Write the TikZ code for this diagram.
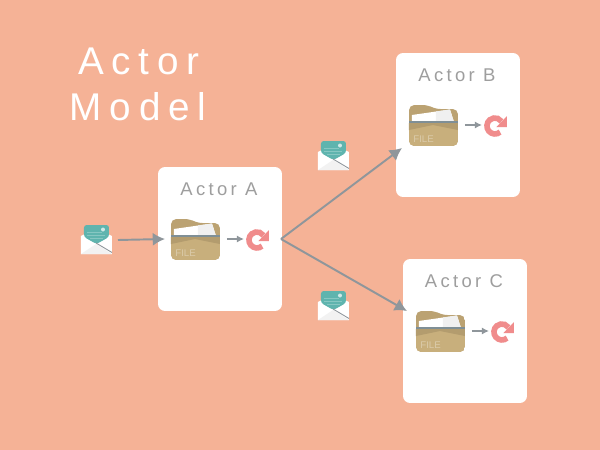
\documentclass[tikz,border=0pt]{standalone}
\usepackage{fontspec}
\setmainfont{Liberation Sans}
\newfontfamily\titlefont[LetterSpace=20]{Liberation Sans}
\newfontfamily\labelfont[LetterSpace=18]{Liberation Sans}
\usetikzlibrary{arrows.meta}
\definecolor{bgsalmon}{HTML}{F5B296}
\definecolor{linegray}{HTML}{8F969B}
\definecolor{labelgray}{HTML}{9E9E9E}
\definecolor{foldertan}{HTML}{BBA272}
\definecolor{folderdark}{HTML}{B39C6E}
\definecolor{folderlight}{HTML}{C8AF7C}
\definecolor{folderband}{HTML}{7F8F96}
\definecolor{redopink}{HTML}{F08C8C}
\definecolor{letterteal}{HTML}{5FB4AE}
\tikzset{>=latex}
\tikzset{
  actor/.style={fill=white, rounded corners=4pt, minimum width=2.48cm, minimum height=2.88cm, inner sep=0pt},
  actorlabel/.style={text=labelgray, font=\labelfont\fontsize{10.5pt}{12pt}\selectfont, inner sep=0pt},
  titlelabel/.style={text=white, font=\titlefont\fontsize{22pt}{26pt}\selectfont, inner sep=0pt},
  bigarrow/.style={draw=linegray, line width=1.1pt, -{Latex[length=7pt,width=7.5pt]}},
  smallarrow/.style={draw=linegray, line width=0.8pt, -{Latex[length=4pt,width=4pt]}}
}
% folder, origin at its top left corner
\newcommand{\folderat}[1]{
  \begin{scope}[shift={(#1)}]
    \begin{scope}
      \clip[rounded corners=3pt] (0,41) -- (0,0) -- (19,0) -- (26,4) -- (49,4) -- (49,41) -- cycle;
      \fill[foldertan] (0,0) rectangle (49,41);
      \fill[white] (3,10) -- (41,4.5) -- (45,17) -- (3,17) -- cycle;
      \fill[white!88!gray] (27,6.5) -- (41,4.5) -- (45,17) -- (27,17) -- cycle;
      \fill[folderlight] (0,17) rectangle (49,41);
      \fill[folderdark] (0,18) -- (49,18) -- (49,25) -- (24,20) -- (0,25) -- cycle;
      \fill[folderband] (0,16) rectangle (49,18);
    \end{scope}
    \node[text=folderlight!65!white, font=\fontsize{5.5pt}{6pt}\selectfont, anchor=west, inner sep=0pt] (filetext) at (4,34) {FILE};
  \end{scope}
}
% reload mark, origin at its centre
\newcommand{\redoat}[1]{
  \begin{scope}[shift={(#1)}]
    \draw[redopink, line width=3.2pt] (5.1,6.1) arc[start angle=50, end angle=325, radius=8];
    \fill[redopink] (12,-10) -- (12,1) -- (1.5,1) -- cycle;
  \end{scope}
}
% envelope, origin at its top left corner
\newcommand{\envelopeat}[1]{
  \begin{scope}[shift={(#1)}]
    \fill[white] (0,11) -- (15,3) -- (31,11) -- (31,29) -- (0,29) -- cycle;
    \fill[letterteal, rounded corners=1.5pt] (3,12) -- (3,0) -- (28,0) -- (28,12) -- (15.5,19) -- cycle;
    \fill[white!70!letterteal] (22,4.5) circle (2);
    \draw[white!25!letterteal, line width=0.4pt] (6,7) -- (21,7) (6,10) -- (24,10) (9,13) -- (22,13);
    \fill[white!90!gray] (0,29) -- (15,19) -- (31,29) -- cycle;
    \draw[linegray, line width=0.5pt] (15,18) -- (31,27.5);
  \end{scope}
}

\begin{document}
\begin{tikzpicture}[x=0.02cm, y=-0.02cm]
  \fill[bgsalmon] (0,0) rectangle (600,450);
  \node[titlelabel] (titleone) at (139,61) {Actor};
  \node[titlelabel] (titletwo) at (138,107) {Model};

  \foreach \name/\x/\y in {A/220/239, B/458/125, C/465/331} {
    \node[actor] (actor\name) at (\x,\y) {};
    \node[actorlabel] (label\name) at (\x-1,\y-50) {Actor \name};
    \folderat{\x-49,\y-20}
    \redoat{\x+37,\y+1}
    \coordinate (from\name) at (\x+7,\y);
    \coordinate (to\name) at (\x+24,\y);
    \draw[smallarrow] (from\name) -- (to\name);
  }

  \envelopeat{81,225}
  \envelopeat{318,141}
  \envelopeat{318,291}

  \coordinate (inmsg) at (118,240);
  \coordinate (inA) at (165,239);
  \coordinate (fork) at (281,239);
  \coordinate (inB) at (402,148);
  \coordinate (inC) at (407,311);
  \draw[bigarrow] (inmsg) -- (inA);
  \draw[bigarrow] (fork) -- (inB);
  \draw[bigarrow] (fork) -- (inC);
\end{tikzpicture}
\end{document}
